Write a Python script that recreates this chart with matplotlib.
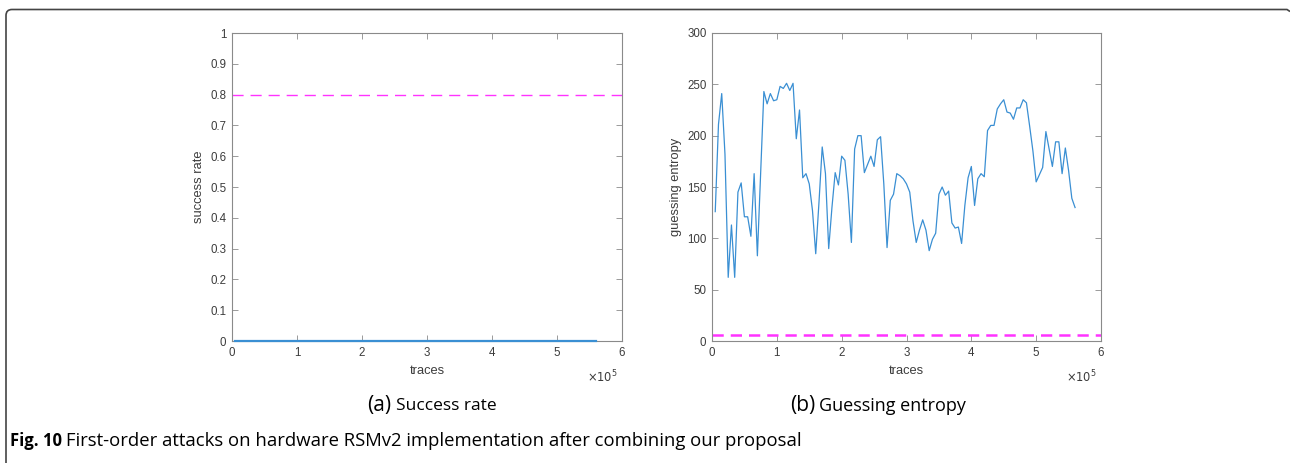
import numpy as np
import matplotlib
matplotlib.use("Agg")
import matplotlib.pyplot as plt
from matplotlib.path import Path
from matplotlib.patches import PathPatch
from matplotlib.transforms import IdentityTransform

# traces: one point every 5000 traces up to 560000
traces = [5000 * k for k in range(1, 113)]

success_rate = [0.0] * 112
sr_threshold = 0.8

guessing_entropy = [
    126, 211, 241, 182, 62, 113, 62, 145, 154, 121,
    121, 102, 163, 83, 163, 243, 231, 241, 234, 235,
    248, 246, 251, 244, 251, 197, 225, 159, 163, 153,
    127, 85, 135, 189, 163, 90, 130, 164, 152, 180,
    176, 143, 96, 187, 200, 200, 164, 172, 180, 170,
    196, 199, 153, 91, 137, 143, 163, 161, 158, 153,
    145, 117, 96, 108, 118, 108, 88, 99, 105, 143,
    150, 142, 146, 115, 110, 111, 95, 132, 159, 170,
    132, 158, 163, 160, 205, 210, 210, 226, 231, 235,
    223, 222, 216, 227, 227, 235, 232, 209, 185, 155,
    162, 169, 204, 187, 170, 194, 194, 163, 188, 166,
    139, 130,
]
ge_threshold = 5.5

x_ticks = [0, 100000, 200000, 300000, 400000, 500000, 600000]
x_ticklabels = ["0", "1", "2", "3", "4", "5", "6"]
sr_ticks = [0, 0.1, 0.2, 0.3, 0.4, 0.5, 0.6, 0.7, 0.8, 0.9, 1]
sr_ticklabels = ["0", "0.1", "0.2", "0.3", "0.4", "0.5", "0.6", "0.7", "0.8", "0.9", "1"]
ge_ticks = [0, 50, 100, 150, 200, 250, 300]

blue = "#3a8fd3"
magenta = "#ff33ff"
tick_col = "#3c3c3c"

plt.rcParams['font.family'] = ['Liberation Sans', 'DejaVu Sans']

W, H = 1290, 463
fig = plt.figure(figsize=(W / 100, H / 100), dpi=100)


def style_axes(ax):
    for s in ax.spines.values():
        s.set_color("#8a8a8a")
        s.set_linewidth(0.8)
    ax.tick_params(direction="in", top=True, right=True, length=4, width=0.6,
                   colors="#8a8a8a", labelcolor=tick_col, labelsize=8.3, pad=4)


ax1 = fig.add_axes([232 / W, 1 - 341 / H, 390 / W, 308 / H])
ax1.plot(traces, success_rate, color=blue, lw=1.6, clip_on=False, zorder=3)
ax1.axhline(sr_threshold, color=magenta, lw=1.0, ls=(0, (8, 5)))
ax1.set_xlim(0, 600000)
ax1.set_ylim(0, 1)
ax1.set_xticks(x_ticks)
ax1.set_xticklabels(x_ticklabels)
ax1.set_yticks(sr_ticks)
ax1.set_yticklabels(sr_ticklabels)
ax1.set_xlabel("traces", fontsize=9.3, color=tick_col, labelpad=5)
ax1.set_ylabel("success rate", fontsize=9.3, color=tick_col, labelpad=4)
style_axes(ax1)
ax1.text(0.99, -0.09, r"$\times10^5$", transform=ax1.transAxes, ha="right",
         va="top", fontsize=8.3, color=tick_col)

ax2 = fig.add_axes([712 / W, 1 - 341 / H, 389 / W, 308 / H])
ax2.plot(traces, guessing_entropy, color=blue, lw=0.9)
ax2.axhline(ge_threshold, color=magenta, lw=1.8, ls=(0, (4.5, 2.8)))
ax2.set_xlim(0, 600000)
ax2.set_ylim(0, 300)
ax2.set_xticks(x_ticks)
ax2.set_xticklabels(x_ticklabels)
ax2.set_yticks(ge_ticks)
ax2.set_xlabel("traces", fontsize=9.3, color=tick_col, labelpad=5)
ax2.set_ylabel("guessing entropy", fontsize=9.3, color=tick_col, labelpad=4)
style_axes(ax2)
ax2.text(0.99, -0.09, r"$\times10^5$", transform=ax2.transAxes, ha="right",
         va="top", fontsize=8.3, color=tick_col)

# sub-captions
cap_font = ['Open Sans', 'DejaVu Sans']
fig.text(367 / W, 1 - 405 / H, "(a)", fontsize=15, family=cap_font, va="center", ha="left")
fig.text(396 / W, 1 - 406 / H, "Success rate", fontsize=12.5, family=cap_font, va="center", ha="left")
fig.text(790 / W, 1 - 405 / H, "(b)", fontsize=15, family=cap_font, va="center", ha="left")
fig.text(819 / W, 1 - 406 / H, "Guessing entropy", fontsize=13, family=cap_font, va="center", ha="left")

# figure caption
fig.text(10 / W, 1 - 441 / H, "Fig. 10", fontsize=12, family=cap_font,
         weight="bold", va="center", ha="left")
fig.text(66 / W, 1 - 441 / H,
         "First-order attacks on hardware RSMv2 implementation after combining our proposal",
         fontsize=13.3, family=cap_font, va="center", ha="left")

# frame around the figure (top and left edges with a rounded corner)
r = 6
x0, y0 = 6, H - 9.5
verts = [(x0, 0), (x0, y0 - r), (x0, y0), (x0 + r, y0), (1287, y0), (1290, y0 - 2)]
codes = [Path.MOVETO, Path.LINETO, Path.CURVE3, Path.CURVE3, Path.LINETO, Path.LINETO]
fig.patches.append(PathPatch(Path(verts, codes), transform=IdentityTransform(),
                             fill=False, edgecolor="#444444", lw=1.2))

fig.savefig("out.png", dpi=100)
